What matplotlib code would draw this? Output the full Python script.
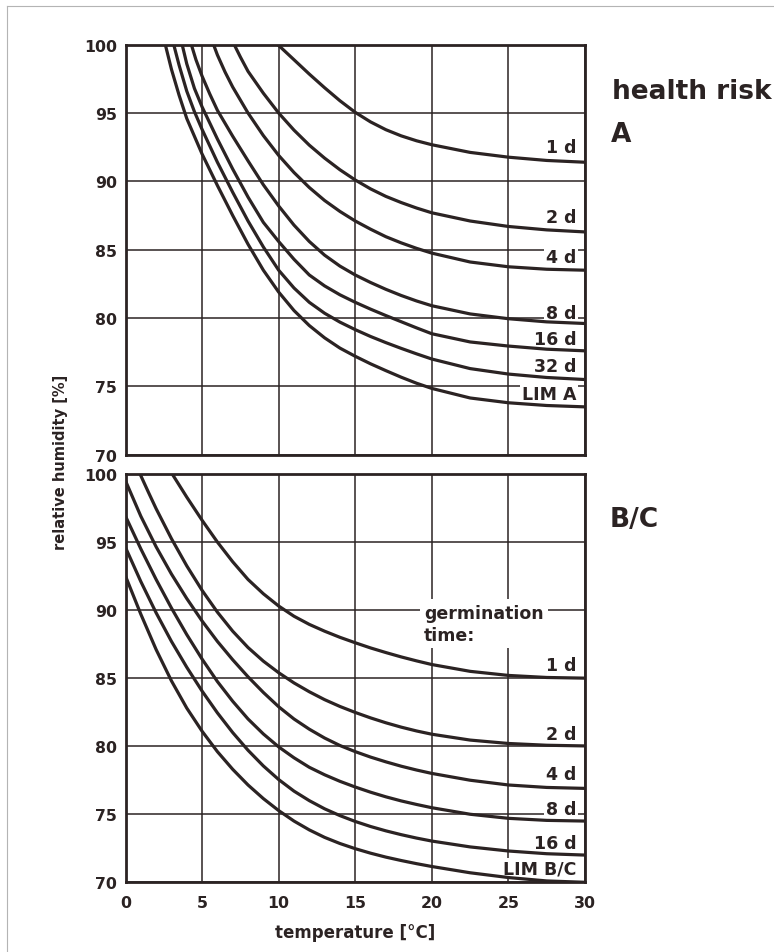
import matplotlib
matplotlib.use('Agg')
import matplotlib.pyplot as plt
from matplotlib.lines import Line2D

plt.rcParams['font.family'] = ['DejaVu Sans']
plt.rcParams['font.weight'] = 'bold'

# ---------------- data: panel A (health risk A) ----------------
a_labels = ['1 d', '2 d', '4 d', '8 d', '16 d', '32 d', 'LIM A']
a_x = [
    [9.95, 11, 12, 13, 14, 15, 16, 17, 18, 19, 20, 22.5, 25, 27.5, 30],
    [7.1, 7.5, 8, 9, 10, 11, 12, 13, 14, 15, 16, 17, 18, 19, 20, 22.5, 25, 27.5, 30],
    [5.75, 6, 6.5, 7, 8, 9, 10, 11, 12, 13, 14, 15, 16, 17, 18, 19, 20, 22.5, 25, 27.5, 30],
    [4.3, 4.6, 5, 5.5, 6, 7, 8, 9, 10, 11, 12, 13, 14, 15, 16, 17, 18, 19, 20, 22.5, 25, 27.5, 30],
    [3.7, 4, 4.5, 5, 6, 7, 8, 9, 10, 11, 12, 13, 14, 15, 16, 17, 18, 19, 20, 22.5, 25, 27.5, 30],
    [3.15, 3.5, 4, 4.5, 5, 6, 7, 8, 9, 10, 11, 12, 13, 14, 15, 16, 17, 18, 19, 20, 22.5, 25, 27.5, 30],
    [2.6, 3, 3.5, 4, 5, 6, 7, 8, 9, 10, 11, 12, 13, 14, 15, 16, 17, 18, 19, 20, 22.5, 25, 27.5, 30],
]
a_y = [
    [100, 98.9, 97.85, 96.85, 95.9, 95.05, 94.35, 93.78, 93.33, 92.97, 92.68, 92.12, 91.77, 91.53, 91.4],
    [100, 99.1, 98.05, 96.45, 95.0, 93.75, 92.65, 91.7, 90.85, 90.1, 89.45, 88.9, 88.45, 88.05, 87.7,
     87.1, 86.7, 86.45, 86.3],
    [100, 99.25, 98.0, 96.9, 95.0, 93.35, 91.9, 90.65, 89.55, 88.6, 87.8, 87.1, 86.5, 85.95, 85.5,
     85.1, 84.75, 84.1, 83.75, 83.57, 83.5],
    [100, 98.9, 97.7, 96.4, 95.2, 93.3, 91.5, 89.75, 88.2, 86.8, 85.6, 84.6, 83.8, 83.15, 82.6,
     82.1, 81.65, 81.25, 80.9, 80.3, 79.95, 79.72, 79.6],
    [100, 98.6, 96.8, 95.45, 93.1, 90.9, 88.85, 87.0, 85.6, 84.3, 83.15, 82.35, 81.7, 81.15, 80.65,
     80.18, 79.73, 79.28, 78.85, 78.25, 77.95, 77.72, 77.6],
    [100, 98.5, 96.6, 95.1, 93.8, 91.4, 89.2, 87.1, 85.2, 83.5, 82.2, 81.15, 80.35, 79.7, 79.15,
     78.65, 78.2, 77.78, 77.38, 77.0, 76.3, 75.9, 75.65, 75.5],
    [100, 98.2, 96.3, 94.6, 92.0, 89.7, 87.5, 85.4, 83.5, 81.9, 80.55, 79.45, 78.55, 77.8, 77.2,
     76.65, 76.15, 75.67, 75.23, 74.85, 74.15, 73.8, 73.6, 73.5],
]
a_label_y = [92.5, 87.4, 84.45, 80.4, 78.5, 76.5, 74.45]

# ---------------- data: panel B/C (germination time) ----------------
b_labels = ['1 d', '2 d', '4 d', '8 d', '16 d', 'LIM B/C']
b_x = [
    [3.05, 4, 5, 6, 7, 8, 9, 10, 11, 12, 13, 14, 15, 16, 17, 18, 19, 20, 22.5, 25, 27.5, 30],
    [0.95, 1.5, 2, 3, 4, 5, 6, 7, 8, 9, 10, 11, 12, 13, 14, 15, 16, 17, 18, 19, 20, 22.5, 25, 27.5, 30],
    [0, 1, 2, 3, 4, 5, 6, 7, 8, 9, 10, 11, 12, 13, 14, 15, 16, 17, 18, 19, 20, 22.5, 25, 27.5, 30],
    [0, 1, 2, 3, 4, 5, 6, 7, 8, 9, 10, 11, 12, 13, 14, 15, 16, 17, 18, 19, 20, 22.5, 25, 27.5, 30],
    [0, 1, 2, 3, 4, 5, 6, 7, 8, 9, 10, 11, 12, 13, 14, 15, 16, 17, 18, 19, 20, 22.5, 25, 27.5, 30],
    [0, 1, 2, 3, 4, 5, 6, 7, 8, 9, 10, 11, 12, 13, 14, 15, 16, 17, 18, 19, 20, 22.5, 25, 27.5, 30],
]
b_y = [
    [100, 98.3, 96.6, 95.0, 93.55, 92.25, 91.2, 90.3, 89.55, 88.95, 88.45, 88.0, 87.6, 87.22, 86.88,
     86.56, 86.27, 86.0, 85.5, 85.2, 85.05, 85.0],
    [100, 98.65, 97.45, 95.25, 93.25, 91.45, 89.85, 88.45, 87.25, 86.25, 85.4, 84.65, 84.0, 83.42,
     82.92, 82.48, 82.08, 81.72, 81.4, 81.12, 80.88, 80.45, 80.2, 80.07, 80.02],
    [99.5, 96.9, 94.65, 92.65, 90.85, 89.2, 87.7, 86.35, 85.1, 83.95, 82.9, 82.0, 81.25, 80.6, 80.05,
     79.6, 79.2, 78.85, 78.53, 78.25, 78.0, 77.5, 77.15, 76.97, 76.9],
    [96.9, 94.5, 92.25, 90.15, 88.2, 86.4, 84.75, 83.3, 82.0, 80.9, 79.95, 79.15, 78.45, 77.9, 77.42,
     77.0, 76.62, 76.28, 75.98, 75.72, 75.48, 75.0, 74.7, 74.55, 74.5],
    [94.6, 92.1, 89.8, 87.7, 85.8, 84.05, 82.45, 81.0, 79.7, 78.55, 77.55, 76.7, 76.0, 75.4, 74.9,
     74.47, 74.1, 73.78, 73.5, 73.25, 73.03, 72.6, 72.3, 72.1, 72.0],
    [92.5, 89.7, 87.1, 84.8, 82.8, 81.1, 79.6, 78.3, 77.15, 76.15, 75.27, 74.5, 73.85, 73.3, 72.85,
     72.47, 72.14, 71.85, 71.6, 71.37, 71.16, 70.7, 70.35, 70.1, 70.0],
]
b_label_y = [86.0, 80.9, 77.95, 75.4, 72.9, 71.0]

x_ticks = [0, 5, 10, 15, 20, 25, 30]
y_ticks = [70, 75, 80, 85, 90, 95, 100]

INK = '#2b2323'
W, H = 774, 953

fig = plt.figure(figsize=(W / 100, H / 100), dpi=100)
fig.patch.set_facecolor('white')

left, right = 125.5, 585.0
ax_a = fig.add_axes([left / W, 1 - 455.7 / H, (right - left) / W, (455.7 - 45.7) / H])
ax_b = fig.add_axes([left / W, 1 - 883.3 / H, (right - left) / W, (883.3 - 475.0) / H])


def style(ax, show_x):
    ax.set_xlim(0, 30)
    ax.set_ylim(70, 100)
    ax.set_xticks(x_ticks)
    ax.set_yticks(y_ticks)
    ax.grid(True, color=INK, linewidth=1.1, zorder=1)
    ax.set_axisbelow(True)
    ax.tick_params(length=0, labelsize=11.3, colors=INK)
    ax.tick_params(axis='y', pad=6)
    ax.tick_params(axis='x', pad=9)
    for lab in ax.get_xticklabels() + ax.get_yticklabels():
        lab.set_fontweight('bold')
    if not show_x:
        ax.tick_params(labelbottom=False)
    for s in ax.spines.values():
        s.set_linewidth(2.0)
        s.set_color(INK)
        s.set_zorder(5)


def draw(ax, xs, ys, labels, label_y):
    for x, y, lab, ly in zip(xs, ys, labels, label_y):
        ax.plot(x, y, color=INK, linewidth=2.3, solid_joinstyle='round', zorder=4, clip_on=True)
        ax.text(29.45, ly, lab, ha='right', va='center', fontsize=12.5, fontweight='bold',
                color=INK, zorder=3,
                bbox=dict(facecolor='white', edgecolor='none', pad=1.2))


style(ax_a, False)
style(ax_b, True)
draw(ax_a, a_x, a_y, a_labels, a_label_y)
draw(ax_b, b_x, b_y, b_labels, b_label_y)

ax_b.text(19.5, 89.0, 'germination\ntime:', ha='left', va='center', fontsize=12.5,
          fontweight='bold', color=INK, linespacing=1.3, zorder=3,
          bbox=dict(facecolor='white', edgecolor='none', pad=3))

fig.text(60 / W, 1 - 462 / H, 'relative humidity [%]', rotation=90, ha='center', va='center',
         fontsize=10.5, fontweight='bold', color=INK)
fig.text(355 / W, 1 - 933 / H, 'temperature [°C]', ha='center', va='center',
         fontsize=12, fontweight='bold', color=INK)
fig.text(612 / W, 1 - 92 / H, 'health risk', ha='left', va='center',
         fontsize=19, fontweight='bold', color=INK)
fig.text(611 / W, 1 - 135 / H, 'A', ha='left', va='center',
         fontsize=19, fontweight='bold', color=INK)
fig.text(610 / W, 1 - 520 / H, 'B/C', ha='left', va='center',
         fontsize=19, fontweight='bold', color=INK)

# thin grey scan frame (top and left edges)
fig.add_artist(Line2D([7 / W, 1.0], [1 - 7 / H, 1 - 7 / H], transform=fig.transFigure,
                      color='#b4b4b4', linewidth=0.8))
fig.add_artist(Line2D([7 / W, 7 / W], [1 - 7 / H, 0.0], transform=fig.transFigure,
                      color='#b4b4b4', linewidth=0.8))

fig.savefig('out.png', dpi=100, facecolor='white')
